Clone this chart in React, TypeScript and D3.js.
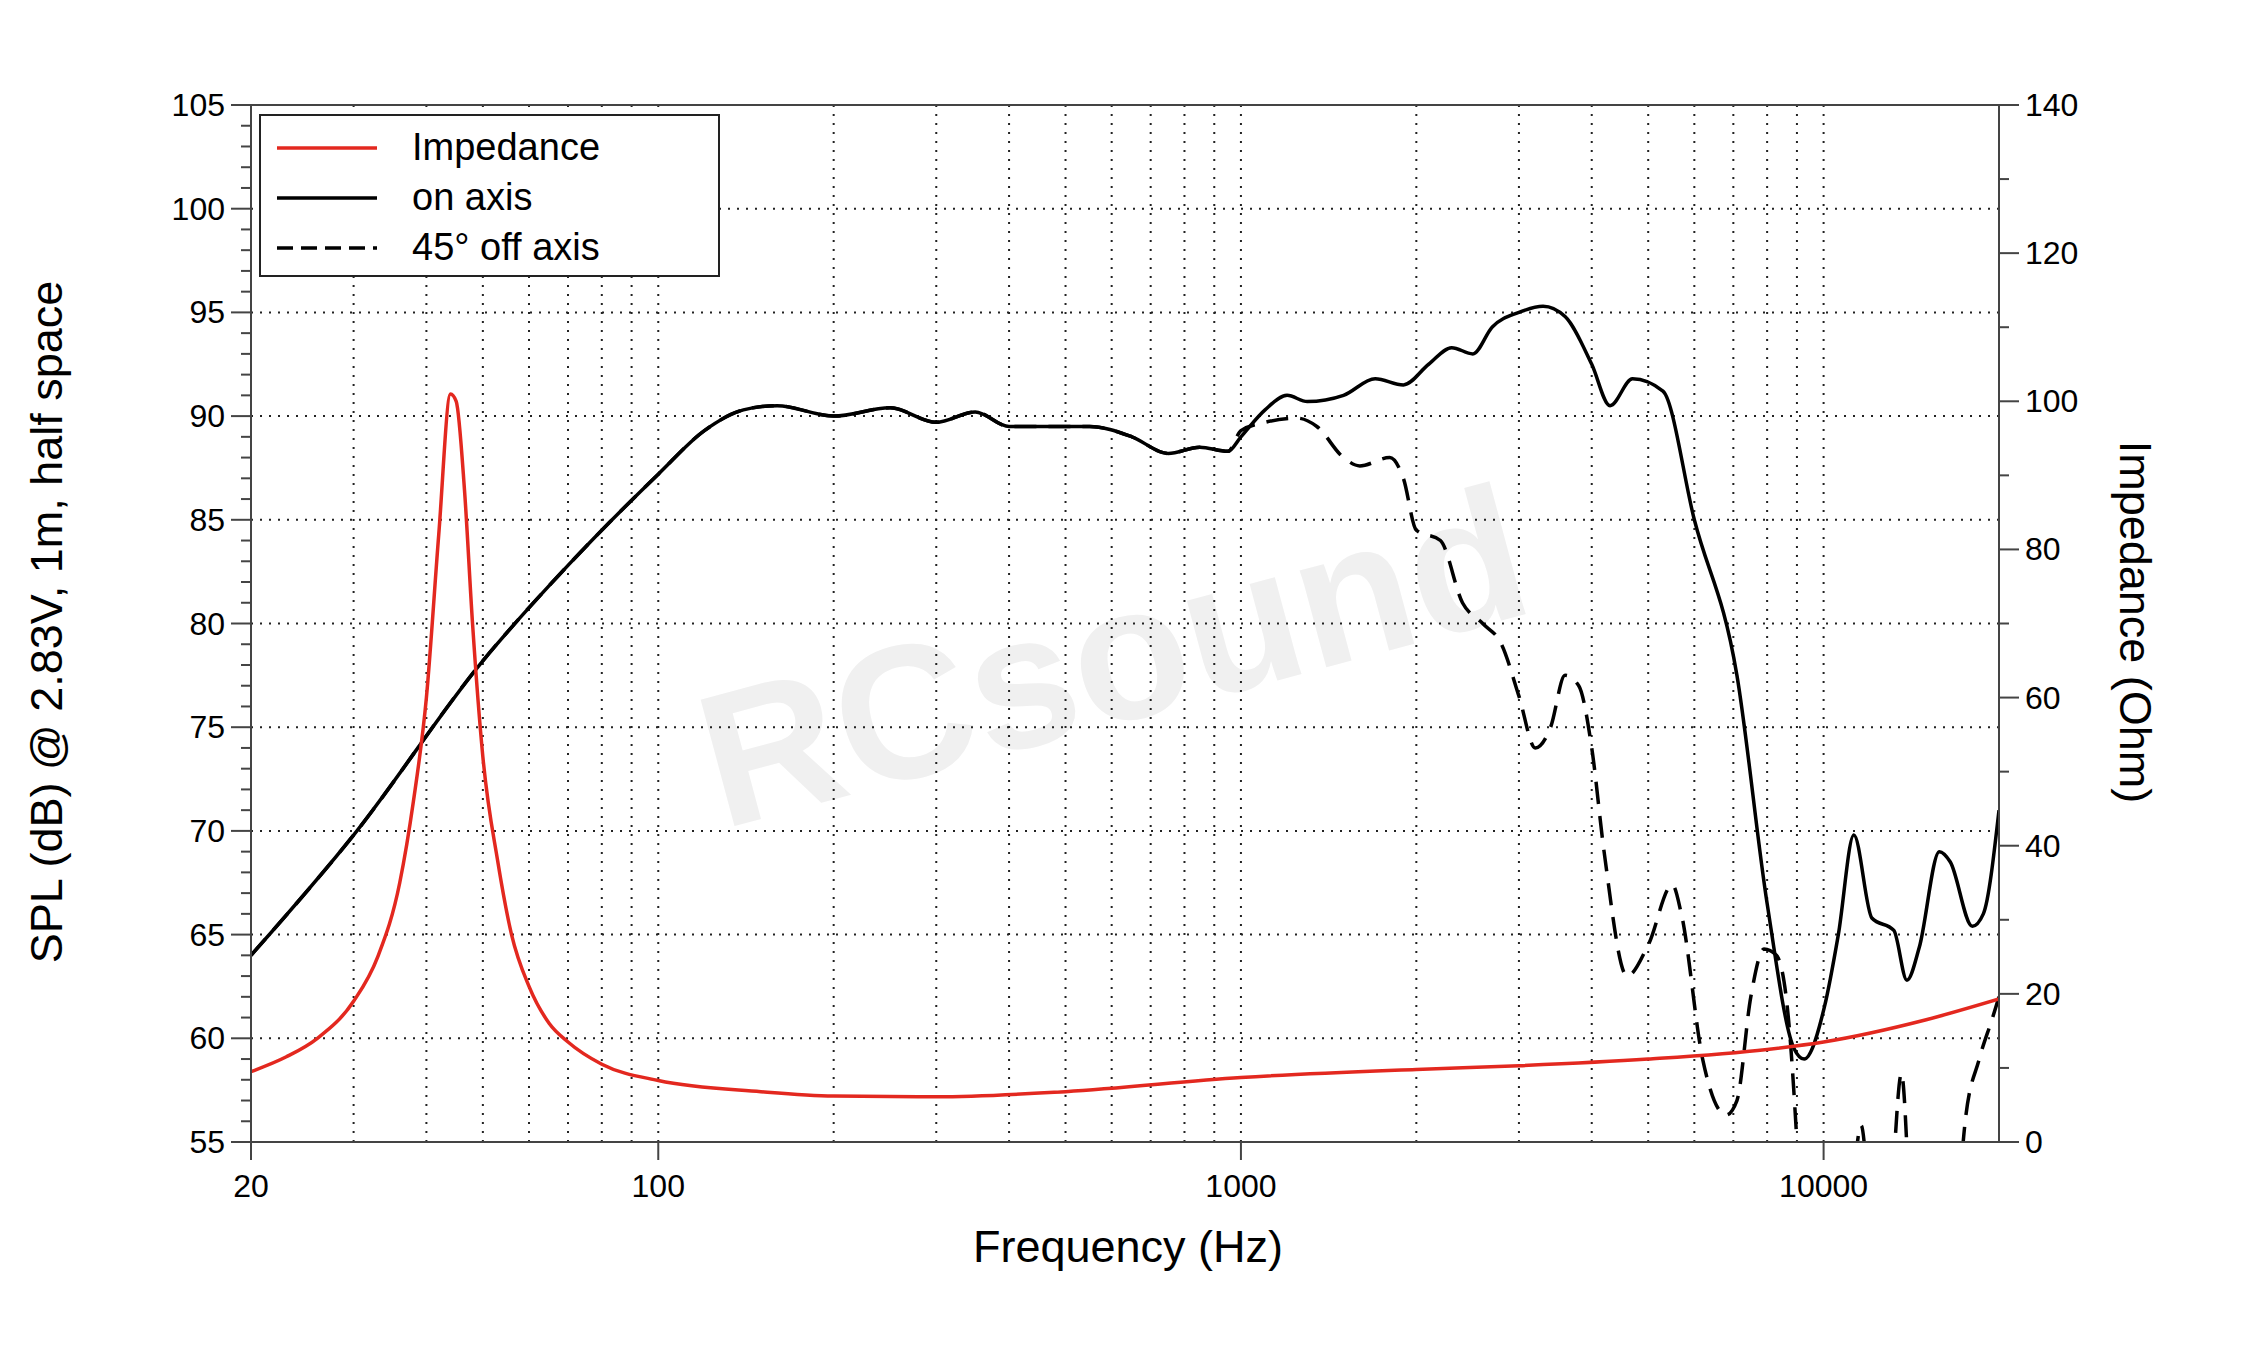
import * as d3 from "d3"

const impFreq = [20, 23, 26, 30, 33, 36, 38, 40, 42, 44, 45, 46.5, 48, 50, 53, 56, 60, 65, 70, 80, 100, 150, 200, 300, 500, 1000, 2000, 3000, 5000, 8000, 10000, 15000, 20000]
const impOhm = [9.5, 11.5, 14, 19, 25, 35, 46, 60, 82, 101, 100, 88, 70, 52, 38, 28, 21, 16, 13.5, 10.5, 8.3, 6.8, 6.2, 6.1, 6.8, 8.7, 9.8, 10.3, 11.2, 12.5, 13.5, 16.5, 19.3]

const onFreq = [20, 30, 50, 70, 100, 120, 140, 160, 200, 250, 300, 350, 400, 500, 550, 650, 750, 850, 950, 1000, 1100, 1200, 1300, 1500, 1700, 1900, 2100, 2300, 2500, 2700, 3000, 3300, 3600, 4000, 4300, 4700, 5300, 6000, 7100, 8000, 8900, 9260, 10030, 10600, 11270, 12100, 13200, 13900, 14600, 15800, 16500, 18000, 18800, 20000]
const onSpl = [64, 69.8, 78.2, 82.8, 87.2, 89.3, 90.3, 90.5, 90, 90.4, 89.7, 90.2, 89.5, 89.5, 89.5, 89, 88.2, 88.5, 88.3, 89, 90.3, 91, 90.7, 91, 91.8, 91.5, 92.5, 93.3, 93, 94.3, 95, 95.3, 94.8, 92.5, 90.5, 91.8, 91.2, 85, 77.5, 66.5, 59.5, 59, 61.5, 65, 69.8, 65.8, 65.2, 62.8, 64.4, 69, 68.5, 65.4, 66, 71]

const offFreq = [20, 30, 50, 70, 100, 120, 140, 160, 200, 250, 300, 350, 400, 500, 550, 650, 750, 850, 950, 1000, 1100, 1250, 1350, 1500, 1600, 1800, 1900, 2000, 2200, 2400, 2600, 2800, 3000, 3200, 3400, 3600, 3800, 4000, 4200, 4600, 5000, 5500, 5700, 6200, 6800, 7100, 7500, 7900, 8300, 8700, 9000, 9200, 10000, 11000, 11600, 12200, 13000, 13600, 14200, 15500, 17000, 17500, 18500, 19500, 20000]
const offSpl = [64, 69.8, 78.2, 82.8, 87.2, 89.3, 90.3, 90.5, 90, 90.4, 89.7, 90.2, 89.5, 89.5, 89.5, 89, 88.2, 88.5, 88.3, 89.3, 89.7, 89.9, 89.5, 88, 87.6, 88, 87, 84.5, 84, 81, 80, 79, 76.5, 74, 75, 77.5, 77, 74, 69, 63, 64.5, 67.4, 66, 59, 56.3, 57, 62, 64.3, 64, 61, 55, 50, 45, 50, 55.8, 50, 52, 58.3, 50, 45, 52, 56, 59, 61, 62]

const splTicks = [55, 60, 65, 70, 75, 80, 85, 90, 95, 100, 105]
const impTicks = [0, 20, 40, 60, 80, 100, 120, 140]
const freqTicks = [20, 100, 1000, 10000]

export default function App() {
  const W = 2250, H = 1350
  const L = 251, R = 1999, T = 105, B = 1142
  const x = d3.scaleLog().domain([20, 20000]).range([L, R])
  const y = d3.scaleLinear().domain([55, 105]).range([B, T])
  const yz = d3.scaleLinear().domain([0, 140]).range([B, T])

  const gridF: number[] = []
  for (const dec of [10, 100, 1000, 10000]) for (let k = 1; k <= 9; k++) { const f = dec * k; if (f > 20 && f < 20000) gridF.push(f) }
  const minorDb = d3.range(55, 106, 1)
  const minorZ = d3.range(0, 141, 10)

  const line = d3.line<[number, number]>().x(d => d[0]).y(d => d[1]).curve(d3.curveMonotoneX)
  const imp = line(impFreq.map((f, i) => [x(f), yz(impOhm[i])]))!
  const on = line(onFreq.map((f, i) => [x(f), y(onSpl[i])]))!
  const off = line(offFreq.map((f, i) => [x(f), y(offSpl[i])]))!
  const font = "'Liberation Sans', Arial, sans-serif"

  return (
    <svg width={W} height={H} style={{ display: "block", margin: -8 }} fontFamily={font}>
      <defs>
        <clipPath id="plot"><rect x={L} y={T} width={R - L} height={B - T} /></clipPath>
      </defs>
      <rect width={W} height={H} fill="#fff" />
      <text x={1130} y={720} fontSize={190} fontWeight="bold" fill="#f0f0f0" textAnchor="middle" transform="rotate(-15 1130 720)">RCsound</text>
      {gridF.map(f => <line key={"v" + f} x1={x(f)} x2={x(f)} y1={T} y2={B} stroke="#222" strokeWidth={2} strokeDasharray="2 7" />)}
      {splTicks.slice(1, -1).map(v => <line key={"h" + v} x1={L} x2={R} y1={y(v)} y2={y(v)} stroke="#222" strokeWidth={2} strokeDasharray="2 7" />)}
      <g clipPath="url(#plot)" fill="none">
        <path d={off} stroke="#000" strokeWidth={3.5} strokeDasharray="22 12" />
        <path d={on} stroke="#000" strokeWidth={3.5} />
        <path d={imp} stroke="#e3281f" strokeWidth={3.5} />
      </g>
      <rect x={L} y={T} width={R - L} height={B - T} fill="none" stroke="#444" strokeWidth={2} />
      {minorDb.map(v => <line key={"md" + v} x1={L} x2={L - (v % 5 === 0 ? 20 : 10)} y1={y(v)} y2={y(v)} stroke="#444" strokeWidth={2} />)}
      {minorZ.map(v => <line key={"mz" + v} x1={R} x2={R + (v % 20 === 0 ? 20 : 10)} y1={yz(v)} y2={yz(v)} stroke="#444" strokeWidth={2} />)}
      {freqTicks.map(f => <line key={"xt" + f} x1={x(f)} x2={x(f)} y1={B} y2={B + 18} stroke="#444" strokeWidth={2} />)}
      {splTicks.map(v => <text key={"sl" + v} x={L - 26} y={y(v) + 11} fontSize={32} textAnchor="end">{v}</text>)}
      {impTicks.map(v => <text key={"zl" + v} x={R + 26} y={yz(v) + 11} fontSize={32}>{v}</text>)}
      {freqTicks.map(f => <text key={"fl" + f} x={x(f)} y={1197} fontSize={32} textAnchor="middle">{f}</text>)}
      <text x={1128} y={1262} fontSize={45} textAnchor="middle">Frequency (Hz)</text>
      <text transform="translate(62 622) rotate(-90)" fontSize={45} textAnchor="middle">SPL (dB) @ 2.83V, 1m, half space</text>
      <text transform="translate(2120 622) rotate(90)" fontSize={45} textAnchor="middle">Impedance (Ohm)</text>
      <rect x={260} y={115} width={459} height={161} fill="#fff" stroke="#222" strokeWidth={2} />
      {[["Impedance", "#e3281f", ""], ["on axis", "#000", ""], ["45° off axis", "#000", "16 8"]].map(([t, c, da], i) => (
        <g key={t}>
          <line x1={277} x2={377} y1={148 + i * 50} y2={148 + i * 50} stroke={c} strokeWidth={3.5} strokeDasharray={da || undefined} />
          <text x={412} y={160 + i * 50} fontSize={38}>{t}</text>
        </g>
      ))}
    </svg>
  )
}
